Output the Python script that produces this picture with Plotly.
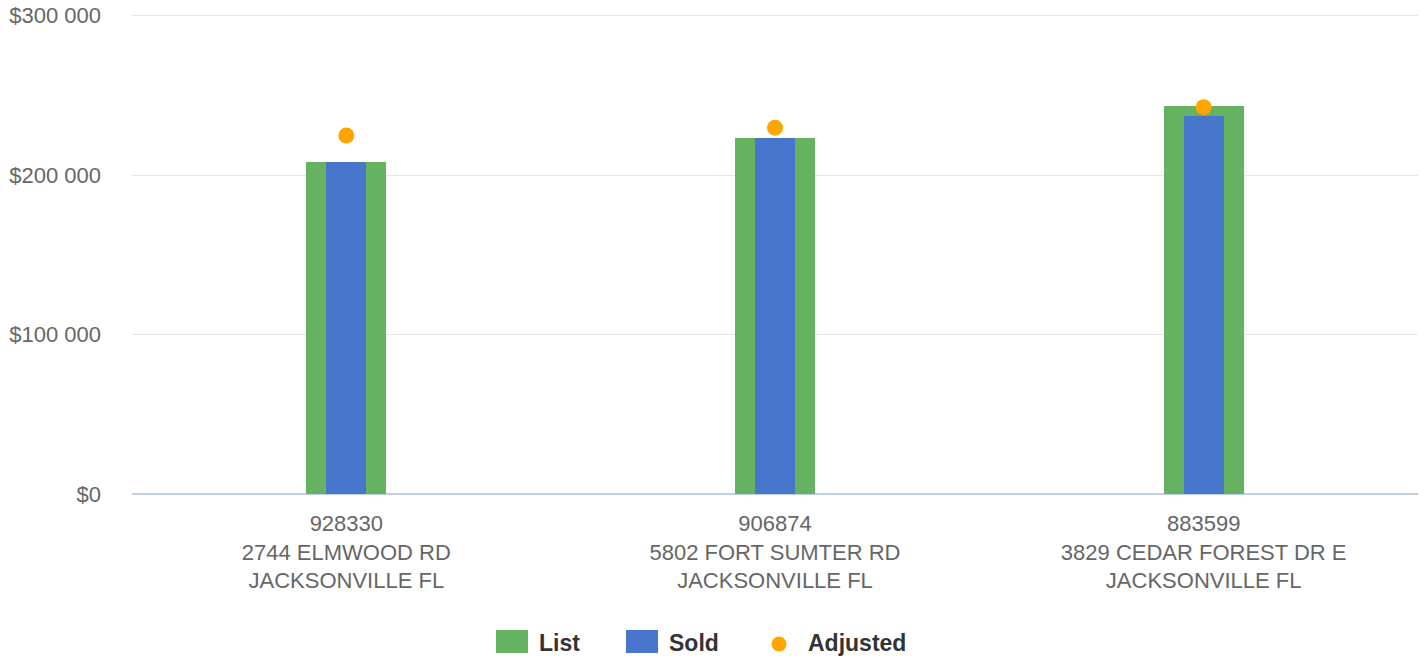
import plotly.graph_objects as go

# ---- data ----
mls_ids = ["928330", "906874", "883599"]
addresses = ["2744 ELMWOOD RD", "5802 FORT SUMTER RD", "3829 CEDAR FOREST DR E"]
cities = ["JACKSONVILLE FL", "JACKSONVILLE FL", "JACKSONVILLE FL"]
list_prices = [208000, 223000, 243000]
sold_prices = [208000, 223000, 236800]
adjusted_prices = [224800, 229700, 242600]
y_tick_vals = [0, 100000, 200000, 300000]
y_tick_text = ["$0", "$100 000", "$200 000", "$300 000"]

categories = [f"{m}<br>{a}<br>{c}" for m, a, c in zip(mls_ids, addresses, cities)]

GREEN = "#65b260"
BLUE = "#4876cc"
ORANGE = "#ffa500"
FONT = "Liberation Sans, Arial, sans-serif"

W, H = 1424, 660
ML, MR, MT = 132, 6, 14
PW, PH = W - ML - MR, 480
MB = H - MT - PH

fig = go.Figure()
fig.add_trace(go.Bar(x=categories, y=list_prices, name="List", marker_color=GREEN,
                     marker_line_width=0, width=0.187, showlegend=False))
fig.add_trace(go.Bar(x=categories, y=sold_prices, name="Sold", marker_color=BLUE,
                     marker_line_width=0, width=0.0935, showlegend=False))
fig.add_trace(go.Scatter(x=categories, y=adjusted_prices, name="Adjusted", mode="markers",
                         marker=dict(color=ORANGE, size=16, line=dict(width=0)), showlegend=False))

# manual legend (page pixel layout -> paper coords)
def px(x):
    return (x - ML) / PW

def py(y):
    return (MT + PH - y) / PH

shapes = [
    dict(type="rect", xref="paper", yref="paper", x0=px(496), x1=px(528), y0=py(653), y1=py(630),
         fillcolor=GREEN, line=dict(width=0)),
    dict(type="rect", xref="paper", yref="paper", x0=px(626), x1=px(658), y0=py(653), y1=py(630),
         fillcolor=BLUE, line=dict(width=0)),
    dict(type="circle", xref="paper", yref="paper", x0=px(771.5), x1=px(786.5), y0=py(651.5), y1=py(636.5),
         fillcolor=ORANGE, line=dict(width=0)),
]
annotations = []
for label, xpos in [("List", 537), ("Sold", 667), ("Adjusted", 806)]:
    annotations.append(dict(text=f"<b>{label}</b>", xref="paper", yref="paper", x=px(xpos), y=py(643),
                            xanchor="left", yanchor="middle", showarrow=False,
                            font=dict(family=FONT, size=23, color="#333333")))

fig.update_layout(
    width=W, height=H,
    margin=dict(l=ML, r=MR, t=MT, b=MB, autoexpand=False),
    paper_bgcolor="white", plot_bgcolor="white",
    barmode="overlay",
    bargap=0,
    font=dict(family=FONT, size=22, color="#666666"),
    shapes=shapes,
    annotations=annotations,
    showlegend=False,
)
fig.update_xaxes(showgrid=False, showline=False, ticks="", ticklabelstandoff=14, automargin=False,
                 tickfont=dict(size=22, color="#666666"))
fig.update_yaxes(range=[0, 301000], tickvals=y_tick_vals, ticktext=y_tick_text,
                 showgrid=True, gridcolor="#e6e6e6", gridwidth=1, automargin=False,
                 zeroline=True, zerolinecolor="#c0d0e2", zerolinewidth=1.5,
                 showline=False, ticks="", ticklabelstandoff=30, ticklabeloverflow="allow",
                 tickfont=dict(size=22, color="#666666"))

fig.write_html("out.html", config={"displayModeBar": False},
               post_script="document.body.style.margin='0';")
